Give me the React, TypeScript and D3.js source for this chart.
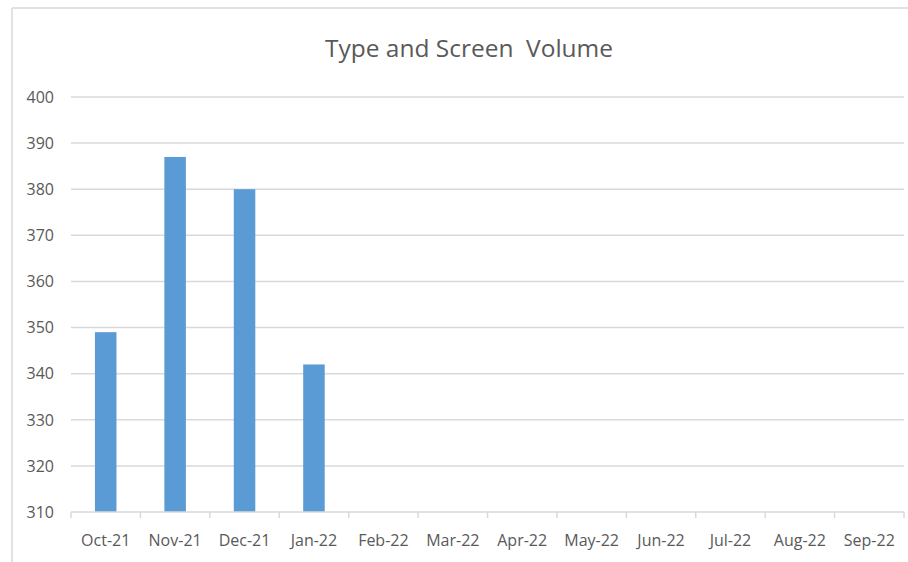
import React from 'react'
import * as d3 from 'd3'

const months = ['Oct-21', 'Nov-21', 'Dec-21', 'Jan-22', 'Feb-22', 'Mar-22', 'Apr-22', 'May-22', 'Jun-22', 'Jul-22', 'Aug-22', 'Sep-22']
const volumes: (number | null)[] = [349, 387, 380, 342, null, null, null, null, null, null, null, null]
const yTicks = [310, 320, 330, 340, 350, 360, 370, 380, 390, 400]

const W = 908
const H = 562
const FONT = '"Open Sans", "Noto Sans", sans-serif'
const GRID = '#d9d9d9'
const TEXT = '#595959'

export default function App() {
  const x = d3.scaleBand().domain(months).range([71, 904]).paddingInner(0.69).paddingOuter(0.345)
  const band = d3.scaleBand().domain(months).range([71, 904])
  const y = d3.scaleLinear().domain([310, 400]).range([512, 97])

  return (
    <svg width={W} height={H} style={{ position: 'fixed', left: 0, top: 0, background: '#fff' }}>
      <rect x={0} y={0} width={W} height={H} fill="#fff" />
      {/* chart frame */}
      <line x1={12} x2={W} y1={8} y2={8} stroke={GRID} strokeWidth={1.5} />
      <line x1={12} x2={12} y1={8} y2={H} stroke={GRID} strokeWidth={1.5} />

      <text x={469} y={57} textAnchor="middle" fontFamily={FONT} fontSize={24} fill={TEXT} style={{ whiteSpace: 'pre' }} textLength={288} lengthAdjust="spacingAndGlyphs">
        Type and Screen  Volume
      </text>

      {yTicks.map(t => (
        <g key={t}>
          {t > 310 && <line x1={71} x2={904} y1={y(t)} y2={y(t)} stroke={GRID} strokeWidth={1.5} />}
          <text x={54} y={y(t)} dy="0.36em" textAnchor="end" fontFamily={FONT} fontSize={16} fill={TEXT}>
            {t}
          </text>
        </g>
      ))}

      {months.map((m, i) => {
        const v = volumes[i]
        if (v == null) return null
        return <rect key={m} x={x(m)} y={y(v)} width={x.bandwidth()} height={y(310) - y(v)} fill="#5b9bd5" />
      })}

      {/* x axis */}
      <line x1={71} x2={904} y1={y(310)} y2={y(310)} stroke={GRID} strokeWidth={1.5} />
      {[...months.map(m => band(m) as number), 904].map((p, i) => (
        <line key={i} x1={p} x2={p} y1={y(310)} y2={y(310) + 6} stroke={GRID} strokeWidth={1.5} />
      ))}
      {months.map(m => (
        <text key={m} x={(band(m) as number) + band.bandwidth() / 2} y={546} textAnchor="middle" fontFamily={FONT} fontSize={16} fill={TEXT}>
          {m}
        </text>
      ))}
    </svg>
  )
}
